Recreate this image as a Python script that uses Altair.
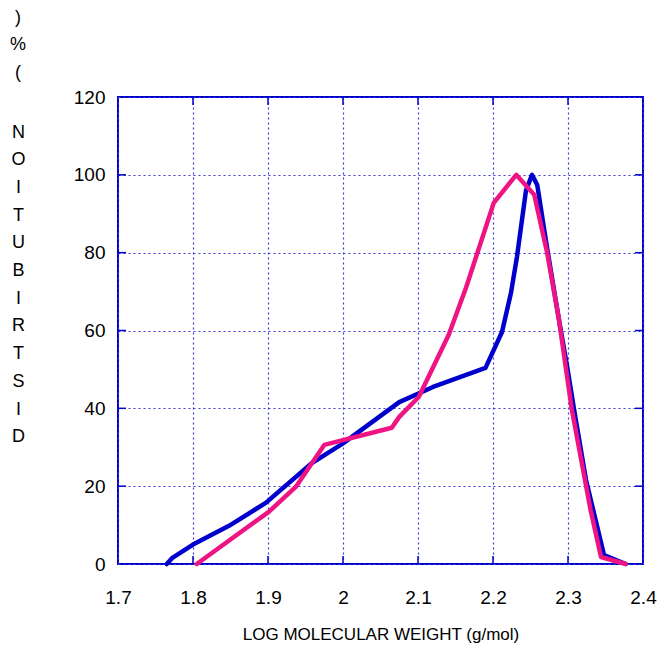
import altair as alt
import pandas as pd

# Blue curve
blue_x = [1.765, 1.772, 1.80, 1.848, 1.897, 1.959, 2.0, 2.075, 2.12, 2.19, 2.212, 2.224, 2.232, 2.244, 2.252, 2.259, 2.271, 2.288, 2.299, 2.308, 2.324, 2.348, 2.377]
blue_y = [0, 1.5, 5, 9.8, 15.7, 26, 31, 41.6, 45.5, 50.4, 59.6, 69.7, 79, 96, 100, 97.4, 82.5, 62.7, 50.6, 39.8, 21.6, 2.3, 0]
# Pink curve
pink_x = [1.805, 1.901, 1.937, 1.975, 2.065, 2.075, 2.101, 2.141, 2.164, 2.201, 2.231, 2.255, 2.272, 2.288, 2.305, 2.33, 2.344, 2.377]
pink_y = [0, 13.4, 19.8, 30.6, 35, 37.8, 42.9, 58.9, 71, 92.8, 100, 94.9, 80.2, 62.7, 39.8, 14, 1.8, 0]

x_ticks = [1.7, 1.8, 1.9, 2.0, 2.1, 2.2, 2.3, 2.4]
y_ticks = [0, 20, 40, 60, 80, 100, 120]
x_inner = [1.8, 1.9, 2.0, 2.1, 2.2, 2.3]
y_inner = [20, 40, 60, 80, 100]

y_title_top = [")", "%", "("]
y_title = ["N", "O", "I", "T", "U", "B", "I", "R", "T", "S", "I", "D"]
x_title = "LOG MOLECULAR WEIGHT (g/mol)"

W, H = 525, 467
FONT = "Liberation Sans"
FRAME = "#0000CC"
GRID = "#3A3AD8"

df_b = pd.DataFrame({"x": blue_x, "y": blue_y, "s": "blue"})
df_p = pd.DataFrame({"x": pink_x, "y": pink_y, "s": "pink"})

xs = alt.Scale(domain=[1.7, 2.4], nice=False, zero=False)
ys = alt.Scale(domain=[0, 120], nice=False)

xax = alt.Axis(values=x_ticks, format="~g", grid=True, gridColor=GRID, gridDash=[2, 3], gridWidth=1.2,
               ticks=False, domain=False, labelFont=FONT, labelFontSize=19, labelColor="black",
               labelPadding=24, labelBaseline="top", labelFlush=False, title=x_title, titleFont=FONT,
               titleFontSize=17, titleFontWeight="normal", titleColor="black", titleY=75,
               titleBaseline="alphabetic")
yax = alt.Axis(values=y_ticks, grid=True, gridColor=GRID, gridDash=[2, 3], gridWidth=1.2,
               ticks=False, domain=False, labelFont=FONT, labelFontSize=19, labelColor="black",
               labelPadding=13, labelBaseline="middle", labelFlush=False, title=y_title, titleFont=FONT,
               titleFontSize=18, titleFontWeight="normal", titleColor="black", titleAngle=0,
               titleAlign="center", titleBaseline="alphabetic", titleX=-100, titleY=40,
               titleLineHeight=27.7)

blue = alt.Chart(df_b).mark_line(color="#0000CC", strokeWidth=4.5, strokeCap="round", strokeJoin="round").encode(
    x=alt.X("x:Q", scale=xs, axis=xax),
    y=alt.Y("y:Q", scale=ys, axis=yax),
    order=alt.Order("x:Q"),
)
pink = alt.Chart(df_p).mark_line(color="#EE1483", strokeWidth=4.5, strokeCap="round", strokeJoin="round").encode(
    x=alt.X("x:Q", scale=xs),
    y=alt.Y("y:Q", scale=ys),
    order=alt.Order("x:Q"),
)

dfx = pd.DataFrame({"v": x_inner})
dfy = pd.DataFrame({"v": y_inner})
tick_style = dict(color=FRAME, strokeWidth=1.5)
xt_bot = alt.Chart(dfx).mark_rule(**tick_style).encode(x=alt.X("v:Q", scale=xs), y=alt.value(H), y2=alt.value(H - 8))
xt_top = alt.Chart(dfx).mark_rule(**tick_style).encode(x=alt.X("v:Q", scale=xs), y=alt.value(0), y2=alt.value(8))
yt_l = alt.Chart(dfy).mark_rule(**tick_style).encode(y=alt.Y("v:Q", scale=ys), x=alt.value(0), x2=alt.value(8))
yt_r = alt.Chart(dfy).mark_rule(**tick_style).encode(y=alt.Y("v:Q", scale=ys), x=alt.value(W), x2=alt.value(W - 8))

chart = alt.layer(xt_bot, xt_top, yt_l, yt_r, blue, pink).properties(
    width=W, height=H,
    autosize=alt.AutoSizeParams(type="none"),
    padding={"left": 118, "top": 97, "right": 17, "bottom": 84},
    background="white",
    title=alt.TitleParams(text=y_title_top, anchor="start", frame="group", orient="top", align="center",
                          baseline="top", dx=-100, dy=-6, offset=0, lineHeight=27.7, font=FONT,
                          fontSize=18, fontWeight="normal", color="black"),
).configure_view(stroke=FRAME, strokeWidth=2)

chart.save("out.html", embed_options={"renderer": "svg", "actions": False})
